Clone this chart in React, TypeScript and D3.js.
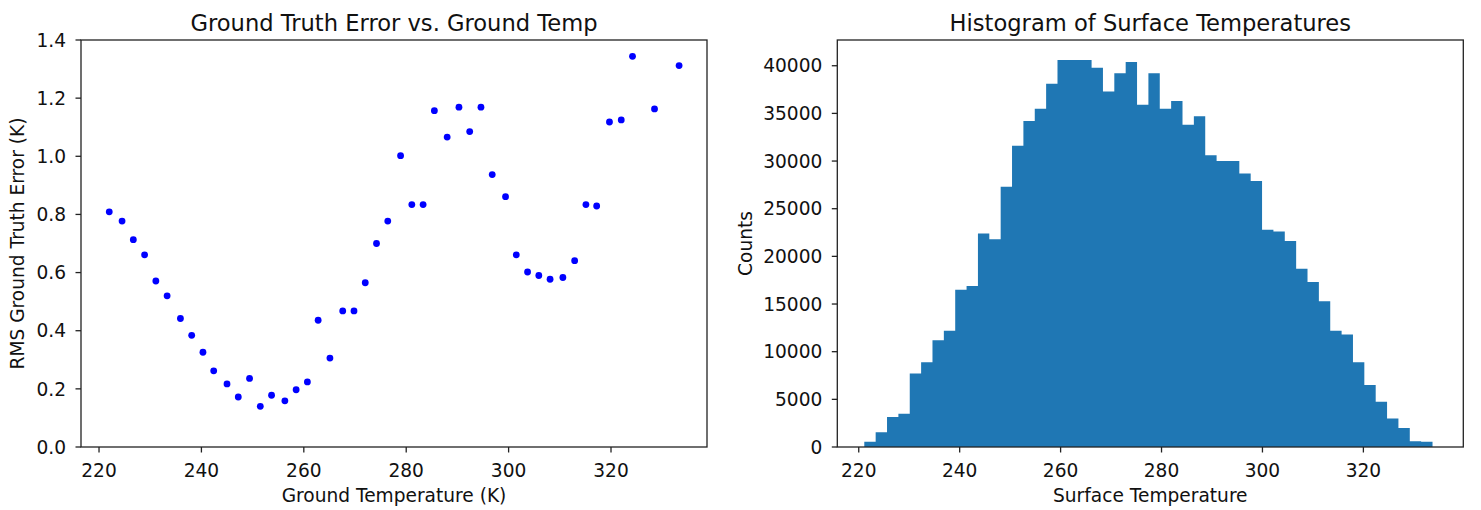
import React from "react";
import * as d3 from "d3";

// Scatter: ground temperature (K) vs RMS ground truth error (K)
const groundTemps = [
  222.0, 224.5, 226.7, 228.9, 231.1, 233.3, 235.9, 238.1, 240.3, 242.4,
  245.0, 247.2, 249.4, 251.5, 253.7, 256.3, 258.5, 260.7, 262.8, 265.1,
  267.6, 269.8, 272.0, 274.2, 276.4, 278.9, 281.1, 283.3, 285.5, 288.0,
  290.3, 292.4, 294.6, 296.8, 299.4, 301.5, 303.7, 305.9, 308.1, 310.6,
  312.9, 315.1, 317.2, 319.7, 322.0, 324.2, 328.5, 333.3,
];
const rmsErrors = [
  0.809, 0.777, 0.713, 0.661, 0.571, 0.52, 0.442, 0.384, 0.326, 0.262,
  0.217, 0.172, 0.236, 0.14, 0.178, 0.159, 0.197, 0.224, 0.436, 0.306,
  0.468, 0.468, 0.565, 0.7, 0.777, 1.002, 0.834, 0.834, 1.157, 1.066,
  1.169, 1.085, 1.169, 0.937, 0.861, 0.661, 0.602, 0.59, 0.577, 0.583,
  0.641, 0.834, 0.829, 1.118, 1.125, 1.344, 1.163, 1.312,
];

// Histogram: 50 bins of surface temperature
const histRange = [221.1, 333.7];
const histCounts = [
  550, 1550, 3150, 3500, 7700, 8900, 11200, 12200, 16500, 16900,
  22400, 21800, 27300, 31600, 34200, 35500, 38100, 40600, 40600, 40600,
  39800, 37300, 39200, 40400, 35900, 39200, 35500, 36300, 33800, 34700,
  30600, 30000, 30000, 28700, 27900, 22800, 22600, 21600, 18700, 17300,
  15300, 12200, 11800, 8900, 6500, 4750, 3000, 2000, 600, 550,
];

const xTicks = [220, 240, 260, 280, 300, 320];
const leftYTicks = [0, 0.2, 0.4, 0.6, 0.8, 1.0, 1.2, 1.4];
const rightYTicks = [0, 5000, 10000, 15000, 20000, 25000, 30000, 35000, 40000];

const FONT = "DejaVu Sans";
const TICK_FS = 18.6;
const TITLE_FS = 22.6;
const AX = "#222";

type PanelProps = {
  x0: number; x1: number; y0: number; y1: number;
  xScale: d3.ScaleLinear<number, number>;
  yScale: d3.ScaleLinear<number, number>;
  yTicks: number[];
  yFmt: (v: number) => string;
  title: string; xLabel: string; yLabel: string; yLabelX: number;
  children?: React.ReactNode;
};

function Panel(p: PanelProps) {
  const { x0, x1, y0, y1, xScale, yScale } = p;
  return (
    <g>
      {p.children}
      <rect x={x0} y={y0} width={x1 - x0} height={y1 - y0} fill="none" stroke={AX} strokeWidth={1.3} />
      {xTicks.map((t) => (
        <g key={"x" + t}>
          <line x1={xScale(t)} x2={xScale(t)} y1={y1} y2={y1 + 5.5} stroke={AX} strokeWidth={1.3} />
          <text x={xScale(t)} y={476.5} textAnchor="middle" fontFamily={FONT} fontSize={TICK_FS} fill="#111">{t}</text>
        </g>
      ))}
      {p.yTicks.map((t) => (
        <g key={"y" + t}>
          <line x1={x0 - 5.5} x2={x0} y1={yScale(t)} y2={yScale(t)} stroke={AX} strokeWidth={1.3} />
          <text x={x0 - 15} y={yScale(t)} dy="0.36em" textAnchor="end" fontFamily={FONT} fontSize={TICK_FS} fill="#111">{p.yFmt(t)}</text>
        </g>
      ))}
      <text x={(x0 + x1) / 2} y={31} textAnchor="middle" fontFamily={FONT} fontSize={TITLE_FS} fill="#111">{p.title}</text>
      <text x={(x0 + x1) / 2} y={502} textAnchor="middle" fontFamily={FONT} fontSize={TICK_FS} fill="#111">{p.xLabel}</text>
      <text transform={`translate(${p.yLabelX},${(y0 + y1) / 2}) rotate(-90)`} textAnchor="middle" fontFamily={FONT} fontSize={TICK_FS} fill="#111">{p.yLabel}</text>
    </g>
  );
}

export default function App() {
  const top = 40, bottom = 447;
  const L = { x0: 81, x1: 707 };
  const R = { x0: 837.3, x1: 1463.3 };

  const xL = d3.scaleLinear().domain([216.48, 338.75]).range([L.x0, L.x1]);
  const yL = d3.scaleLinear().domain([0, 1.4]).range([bottom, top]);
  const xR = d3.scaleLinear().domain([215.75, 339.8]).range([R.x0, R.x1]);
  const yR = d3.scaleLinear().domain([0, 42700]).range([bottom, top]);

  const binW = (histRange[1] - histRange[0]) / histCounts.length;
  const steps = histCounts.map((c, i) => ({ x: histRange[0] + i * binW, c }));
  steps.push({ x: histRange[1], c: histCounts[histCounts.length - 1] });
  const area = d3.area<{ x: number; c: number }>()
    .x((d) => xR(d.x)).y0(yR(0)).y1((d) => yR(d.c)).curve(d3.curveStepAfter);

  return (
    <svg width={1481} height={510} style={{ position: "absolute", left: 0, top: 0, background: "#fff" }}>
      <rect x={0} y={0} width={1481} height={510} fill="#fff" />
      <Panel x0={L.x0} x1={L.x1} y0={top} y1={bottom} xScale={xL} yScale={yL}
        yTicks={leftYTicks} yFmt={d3.format(".1f")}
        title="Ground Truth Error vs. Ground Temp" xLabel="Ground Temperature (K)"
        yLabel="RMS Ground Truth Error (K)" yLabelX={24}>
        {groundTemps.map((t, i) => (
          <circle key={i} cx={xL(t)} cy={yL(rmsErrors[i])} r={3.4} fill="#0000ff" />
        ))}
      </Panel>
      <Panel x0={R.x0} x1={R.x1} y0={top} y1={bottom} xScale={xR} yScale={yR}
        yTicks={rightYTicks} yFmt={d3.format("d")}
        title="Histogram of Surface Temperatures" xLabel="Surface Temperature"
        yLabel="Counts" yLabelX={752}>
        <path d={area(steps) || ""} fill="#1f77b4" />
      </Panel>
    </svg>
  );
}
